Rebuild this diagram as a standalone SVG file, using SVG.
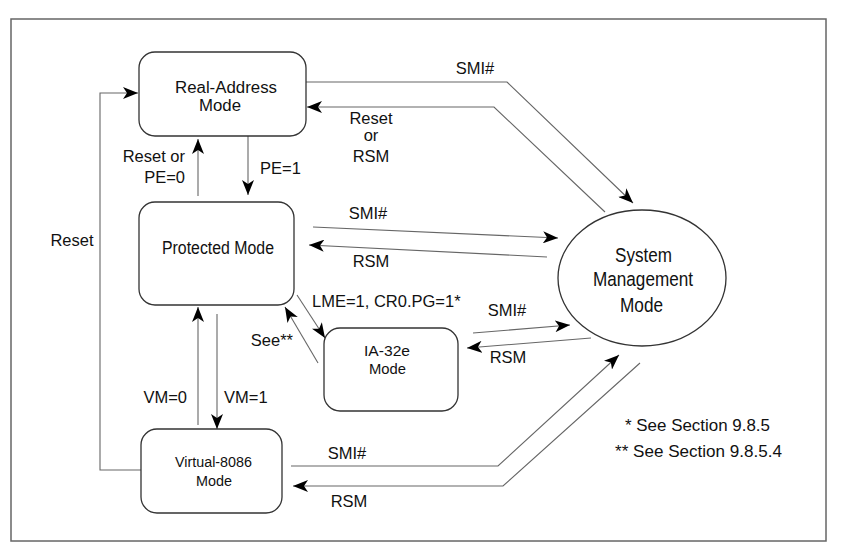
<svg xmlns="http://www.w3.org/2000/svg" width="865" height="543" viewBox="0 0 865 543">
<style>
text{font-family:"Liberation Sans",Arial,sans-serif;fill:#111}
.lbl{font-size:16.5px}
.box{fill:#fff;stroke:#333;stroke-width:1.3}
.c{fill:none;stroke:#666;stroke-width:1.1}
.ca{fill:none;stroke:#666;stroke-width:1.1;marker-end:url(#ah)}
</style>
<defs>
<marker id="ah" markerUnits="userSpaceOnUse" markerWidth="16" markerHeight="12" refX="15" refY="6" orient="auto">
<path d="M0,0 L15,6 L0,12 L4,6 z" fill="#000"/>
</marker>
</defs>
<rect x="0" y="0" width="865" height="543" fill="#fff"/>
<rect x="11" y="19" width="815" height="522" fill="none" stroke="#666" stroke-width="1.5"/>

<g id="connectors">
<polyline class="ca" points="141,470 100,470 100,93 138,93"/>
<polyline class="ca" points="306,82 507,82 633,203"/>
<polyline class="ca" points="605,212 494,107 307,107"/>
<line class="ca" x1="198" y1="196" x2="198" y2="139"/>
<line class="ca" x1="248" y1="136" x2="248" y2="195"/>
<line class="ca" x1="313" y1="227" x2="558" y2="238"/>
<line class="ca" x1="547" y1="257" x2="309" y2="245"/>
<line class="ca" x1="297" y1="295" x2="325" y2="338"/>
<line class="ca" x1="318" y1="363" x2="285" y2="307"/>
<line class="ca" x1="217" y1="314" x2="217" y2="429"/>
<line class="ca" x1="198" y1="425" x2="198" y2="307"/>
<line class="ca" x1="473" y1="333" x2="570" y2="325"/>
<line class="ca" x1="591" y1="338" x2="467" y2="348"/>
<polyline class="ca" points="291,466 498,466 619,355"/>
<polyline class="ca" points="640,363 503,486 293,486"/>
</g>

<g id="labels">
<text class="lbl" x="475" y="74" text-anchor="middle">SMI#</text>
<text class="lbl" x="371" y="124" text-anchor="middle">Reset</text>
<text class="lbl" x="371" y="141" text-anchor="middle">or</text>
<text class="lbl" x="371" y="162" text-anchor="middle">RSM</text>
<text class="lbl" x="185" y="162" text-anchor="end">Reset or</text>
<text class="lbl" x="185" y="183" text-anchor="end">PE=0</text>
<text class="lbl" x="260" y="174">PE=1</text>
<text class="lbl" x="368" y="219" text-anchor="middle">SMI#</text>
<text class="lbl" x="371" y="267" text-anchor="middle">RSM</text>
<text class="lbl" x="72" y="246" text-anchor="middle">Reset</text>
<text class="lbl" x="312" y="307">LME=1, CR0.PG=1*</text>
<text class="lbl" x="293" y="346" text-anchor="end">See**</text>
<text class="lbl" x="187" y="403" text-anchor="end">VM=0</text>
<text class="lbl" x="224" y="403">VM=1</text>
<text class="lbl" x="507" y="316" text-anchor="middle">SMI#</text>
<text class="lbl" x="508" y="363" text-anchor="middle">RSM</text>
<text class="lbl" x="347" y="459" text-anchor="middle">SMI#</text>
<text class="lbl" x="349" y="507" text-anchor="middle">RSM</text>
<text x="625" y="431" font-size="17" textLength="145" lengthAdjust="spacingAndGlyphs">* See Section 9.8.5</text>
<text x="615" y="457" font-size="17" textLength="167" lengthAdjust="spacingAndGlyphs">** See Section 9.8.5.4</text>
</g>

<g id="real">
<rect class="box" x="139" y="52" width="167" height="84" rx="16"/>
<text x="175" y="93" font-size="16" textLength="102" lengthAdjust="spacingAndGlyphs">Real-Address</text>
<text x="199" y="111" font-size="16" textLength="42" lengthAdjust="spacingAndGlyphs">Mode</text>
</g>
<g id="protected">
<rect class="box" x="139" y="202" width="155" height="103" rx="16"/>
<text x="162" y="254" font-size="18" textLength="112" lengthAdjust="spacingAndGlyphs">Protected Mode</text>
</g>
<g id="ia32e">
<rect class="box" x="324" y="328" width="134" height="83" rx="16"/>
<text x="364" y="356" font-size="15.5" textLength="46" lengthAdjust="spacingAndGlyphs">IA-32e</text>
<text x="369" y="374" font-size="15.5" textLength="37" lengthAdjust="spacingAndGlyphs">Mode</text>
</g>
<g id="v86">
<rect class="box" x="141" y="429" width="141" height="84" rx="16"/>
<text x="175" y="467" font-size="15.5" textLength="77" lengthAdjust="spacingAndGlyphs">Virtual-8086</text>
<text x="196" y="486" font-size="15.5" textLength="36" lengthAdjust="spacingAndGlyphs">Mode</text>
</g>
<g id="smm">
<ellipse cx="642" cy="278" rx="84" ry="68" fill="#fff" stroke="#333" stroke-width="1.3"/>
<text x="615" y="262" font-size="20.5" textLength="57" lengthAdjust="spacingAndGlyphs">System</text>
<text x="593" y="286" font-size="20.5" textLength="100" lengthAdjust="spacingAndGlyphs">Management</text>
<text x="620" y="312" font-size="20.5" textLength="43" lengthAdjust="spacingAndGlyphs">Mode</text>
</g>
</svg>
